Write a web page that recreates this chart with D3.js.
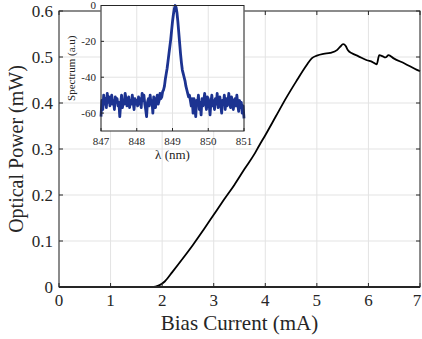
<!DOCTYPE html>
<html lang="en">
<head>
<meta charset="UTF-8">
<title>Optical power vs bias current</title>
<script src="https://d3js.org/d3.v7.min.js"></script>
<style>
  body { margin: 0; background: #fff; }
  text { font-family: "Liberation Serif", "Times New Roman", serif; fill: #262626; }
</style>
</head>
<body>
<script>
// L-I curve
const current = [0, 0.5, 1.0, 1.5, 1.8, 1.87, 1.95, 2.05, 2.2, 2.4, 2.6, 2.8, 3.0, 3.2, 3.4, 3.6, 3.8, 3.88, 4.0, 4.2, 4.4, 4.6, 4.8, 4.9, 5.0, 5.13, 5.26, 5.39, 5.45, 5.51, 5.56, 5.6, 5.68, 5.8, 5.97, 6.08, 6.16, 6.21, 6.27, 6.33, 6.39, 6.49, 6.7, 6.94, 7.0];
const power   = [0, 0, 0, 0, 0, 0.001, 0.004, 0.012, 0.033, 0.062, 0.092, 0.124, 0.157, 0.19, 0.222, 0.257, 0.291, 0.307, 0.33, 0.37, 0.41, 0.447, 0.482, 0.497, 0.503, 0.507, 0.509, 0.515, 0.522, 0.528, 0.524, 0.515, 0.508, 0.502, 0.493, 0.489, 0.484, 0.504, 0.502, 0.499, 0.504, 0.497, 0.486, 0.472, 0.469];
const xTicks = [0, 1, 2, 3, 4, 5, 6, 7];
const yTicks = [0, 0.1, 0.2, 0.3, 0.4, 0.5, 0.6];

// inset spectrum, 847 to 851 nm in 0.025 nm steps
const lambdaStart = 847, lambdaStep = 0.025;
const spectrum = [
  -62, -53, -58, -50, -55, -52, -57, -49, -54, -51, -56, -52, -50, -55, -53, -58, -51, -54, -52, -56,
  -54, -62, -55, -50, -57, -53, -55, -49, -52, -56, -54, -51, -57, -53, -55, -50, -54, -58, -52, -55,
  -53, -56, -51, -55, -52, -57, -49, -53, -50, -55, -58, -62, -54, -52, -56, -50, -55, -53, -60, -51,
  -54, -57, -52, -50, -55, -53, -49, -52, -51, -48, -47, -45, -41, -38, -35, -31, -27, -23, -19, -14,
  -9, -5, -2, 0, -1, -4, -9, -15, -21, -27, -32, -36, -38, -40, -42, -45, -47, -49, -51, -50,
  -53, -56, -52, -60, -52, -57, -62, -53, -55, -50, -58, -54, -61, -52, -56, -53, -49, -55, -58, -51,
  -52, -55, -61, -54, -50, -56, -53, -58, -52, -55, -49, -57, -54, -51, -56, -60, -53, -55, -50, -58,
  -52, -56, -54, -49, -55, -57, -51, -53, -58, -54, -52, -56, -50, -55, -59, -53, -57, -54, -60, -56,
  -63];
const insetXTicks = [847, 848, 849, 850, 851];
const insetYTicks = [0, -20, -40, -60];

const width = 422, height = 339;
const svg = d3.select("body").append("svg").attr("width", width).attr("height", height);

// main axes
const m = { left: 59, right: 420, top: 11, bottom: 287 };
const x = d3.scaleLinear().domain([0, 7]).range([m.left, m.right]);
const y = d3.scaleLinear().domain([0, 0.6]).range([m.bottom, m.top]);

const grid = svg.append("g").attr("stroke", "#e3e3e3").attr("stroke-width", 1);
grid.selectAll(".gx").data(xTicks).enter().append("line")
  .attr("x1", d => x(d)).attr("x2", d => x(d)).attr("y1", m.top).attr("y2", m.bottom);
grid.selectAll(".gy").data(yTicks).enter().append("line")
  .attr("x1", m.left).attr("x2", m.right).attr("y1", d => y(d)).attr("y2", d => y(d));

svg.append("path")
  .datum(current.map((c, i) => [c, power[i]]))
  .attr("fill", "none").attr("stroke", "#000").attr("stroke-width", 1.8)
  .attr("stroke-linejoin", "round")
  .attr("d", d3.line().x(d => x(d[0])).y(d => y(d[1])).curve(d3.curveMonotoneX));

// box + inward ticks
const box = svg.append("g").attr("stroke", "#262626").attr("fill", "none");
box.append("rect").attr("x", m.left).attr("y", m.top)
  .attr("width", m.right - m.left).attr("height", m.bottom - m.top).attr("stroke-width", 1);
box.append("line").attr("x1", m.left).attr("x2", m.right).attr("y1", m.bottom).attr("y2", m.bottom).attr("stroke-width", 2);
xTicks.forEach(t => {
  box.append("line").attr("x1", x(t)).attr("x2", x(t)).attr("y1", m.bottom).attr("y2", m.bottom - 4);
  box.append("line").attr("x1", x(t)).attr("x2", x(t)).attr("y1", m.top).attr("y2", m.top + 4);
});
yTicks.forEach(t => {
  box.append("line").attr("x1", m.left).attr("x2", m.left + 4).attr("y1", y(t)).attr("y2", y(t));
  box.append("line").attr("x1", m.right).attr("x2", m.right - 4).attr("y1", y(t)).attr("y2", y(t));
});

svg.selectAll(".xl").data(xTicks).enter().append("text")
  .attr("x", d => Math.min(x(d), width - 5)).attr("y", 306).attr("text-anchor", "middle")
  .attr("font-size", 17).text(d => d);
svg.selectAll(".yl").data(yTicks).enter().append("text")
  .attr("x", 53).attr("y", d => y(d)).attr("dy", "0.35em").attr("text-anchor", "end")
  .attr("font-size", 17).text(d => d === 0 ? "0" : d3.format(".1f")(d));

svg.append("text").attr("x", (m.left + m.right) / 2).attr("y", 330)
  .attr("text-anchor", "middle").attr("font-size", 21).text("Bias Current (mA)");
svg.append("text").attr("transform", `translate(23,${(m.top + m.bottom) / 2}) rotate(-90)`)
  .attr("text-anchor", "middle").attr("font-size", 20).text("Optical Power (mW)");

// inset
const n = { left: 101, right: 244, top: 5.5, bottom: 131 };
const ix = d3.scaleLinear().domain([847, 851]).range([n.left, n.right]);
const iy = d3.scaleLinear().domain([-70, 0]).range([n.bottom, n.top]);

svg.append("rect").attr("x", n.left).attr("y", n.top)
  .attr("width", n.right - n.left).attr("height", n.bottom - n.top).attr("fill", "#fff");
const igrid = svg.append("g").attr("stroke", "#e3e3e3");
igrid.selectAll(".igx").data(insetXTicks).enter().append("line")
  .attr("x1", d => ix(d)).attr("x2", d => ix(d)).attr("y1", n.top).attr("y2", n.bottom);
igrid.selectAll(".igy").data(insetYTicks).enter().append("line")
  .attr("x1", n.left).attr("x2", n.right).attr("y1", d => iy(d)).attr("y2", d => iy(d));

svg.append("path")
  .datum(spectrum.map((v, i) => [lambdaStart + i * lambdaStep, v]))
  .attr("fill", "none").attr("stroke", "#1c3391").attr("stroke-width", 2.8)
  .attr("stroke-linejoin", "round")
  .attr("d", d3.line().x(d => ix(d[0])).y(d => iy(d[1])));

const ibox = svg.append("g").attr("stroke", "#262626").attr("fill", "none");
ibox.append("rect").attr("x", n.left).attr("y", n.top)
  .attr("width", n.right - n.left).attr("height", n.bottom - n.top);
insetXTicks.forEach(t => {
  ibox.append("line").attr("x1", ix(t)).attr("x2", ix(t)).attr("y1", n.bottom).attr("y2", n.bottom - 3);
});
insetYTicks.forEach(t => {
  ibox.append("line").attr("x1", n.left).attr("x2", n.left + 3).attr("y1", iy(t)).attr("y2", iy(t));
});

svg.selectAll(".ixl").data(insetXTicks).enter().append("text")
  .attr("x", d => ix(d)).attr("y", 145).attr("text-anchor", "middle")
  .attr("font-size", 11).text(d => d);
svg.selectAll(".iyl").data(insetYTicks).enter().append("text")
  .attr("x", 96).attr("y", d => iy(d)).attr("dy", "0.35em").attr("text-anchor", "end")
  .attr("font-size", 11).text(d => d);
svg.append("text").attr("x", (n.left + n.right) / 2).attr("y", 159)
  .attr("text-anchor", "middle").attr("font-size", 13).text("λ (nm)");
svg.append("text").attr("transform", `translate(75,${(n.top + n.bottom) / 2}) rotate(-90)`)
  .attr("text-anchor", "middle").attr("font-size", 11).text("Spectrum (a.u)");
</script>
</body>
</html>
